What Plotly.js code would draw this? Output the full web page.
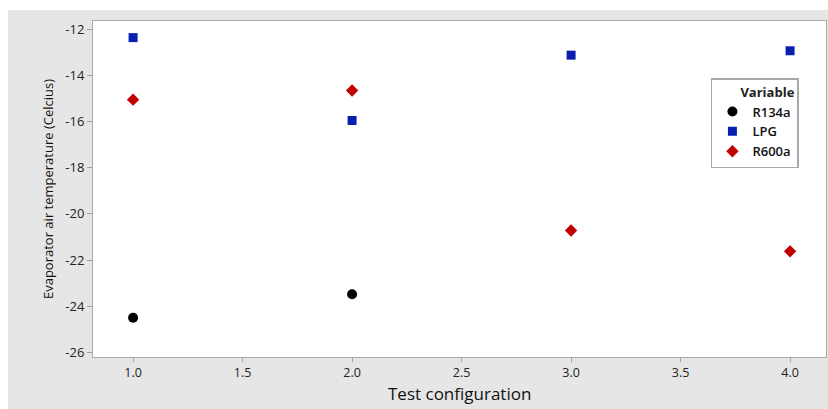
<!DOCTYPE html>
<html><head><meta charset="utf-8">
<script src="https://cdn.plot.ly/plotly-3.0.1.min.js"></script>
<style>
html,body{margin:0;padding:0;background:#fff;width:828px;height:409px;overflow:hidden}
#chart{position:absolute;left:8px;top:10px;width:820px;height:399px}
</style></head>
<body><div id="chart"></div>
<script>
const configs = [1, 2, 3, 4];
const r134a = [-24.5, -23.48, null, null];
const lpg = [-12.36, -15.95, -13.12, -12.93];
const r600a = [-15.05, -14.65, -20.72, -21.62];
const yTicks = [-26, -24, -22, -20, -18, -16, -14, -12];
const xTicks = [1.0, 1.5, 2.0, 2.5, 3.0, 3.5, 4.0];

const font = "'Open Sans', 'Noto Sans', sans-serif";
const traces = [
  {x: configs, y: r134a, name: 'R134a', mode: 'markers', type: 'scatter',
   marker: {symbol: 'circle', color: '#000000', size: 10}},
  {x: configs, y: lpg, name: 'LPG', mode: 'markers', type: 'scatter',
   marker: {symbol: 'square', color: '#0a1fb0', size: 9}},
  {x: configs, y: r600a, name: 'R600a', mode: 'markers', type: 'scatter',
   marker: {symbol: 'diamond', color: '#c00000', size: 9.5}}
];
const layout = {
  width: 820, height: 399,
  paper_bgcolor: '#e6e6e6', plot_bgcolor: '#ffffff',
  margin: {l: 85, r: 2, t: 11, b: 52},
  font: {family: font, color: '#222', size: 13},
  showlegend: true,
  legend: {x: 0.843, y: 0.83, xanchor: 'left', yanchor: 'top',
    bgcolor: '#ffffff', bordercolor: '#a8a8a8', borderwidth: 1.5,
    title: {text: '\u2003\u2003<b>Variable</b>', font: {size: 13, color: '#222'}},
    font: {size: 13, color: '#111', weight: 600}, itemwidth: 30, tracegroupgap: 0},
  xaxis: {range: [0.817, 4.164], tickvals: xTicks, ticktext: xTicks.map(v => v.toFixed(1)),
    ticks: 'outside', ticklen: 4, tickcolor: '#a0a0a0', showgrid: false, zeroline: false,
    showline: true, linecolor: '#a8a8a8', linewidth: 1, mirror: true,
    tickfont: {size: 12.5, color: '#222'}},
  yaxis: {range: [-26.2, -11.64], tickvals: yTicks, ticktext: yTicks.map(String),
    ticks: 'outside', ticklen: 5, tickcolor: '#a0a0a0', showgrid: false, zeroline: false,
    showline: true, linecolor: '#a8a8a8', linewidth: 1, mirror: true,
    tickfont: {size: 13, color: '#222'},
    title: {text: 'Evaporator air temperature (Celcius)', font: {size: 13, color: '#111'}, standoff: 8}},
  annotations: [{text: 'Test configuration', xref: 'paper', yref: 'paper',
    x: 0.5, y: -0.108, xanchor: 'center', yanchor: 'middle', showarrow: false,
    font: {size: 17, color: '#111'}}]
};
Plotly.newPlot('chart', traces, layout, {displayModeBar: false, staticPlot: true});
</script></body></html>
